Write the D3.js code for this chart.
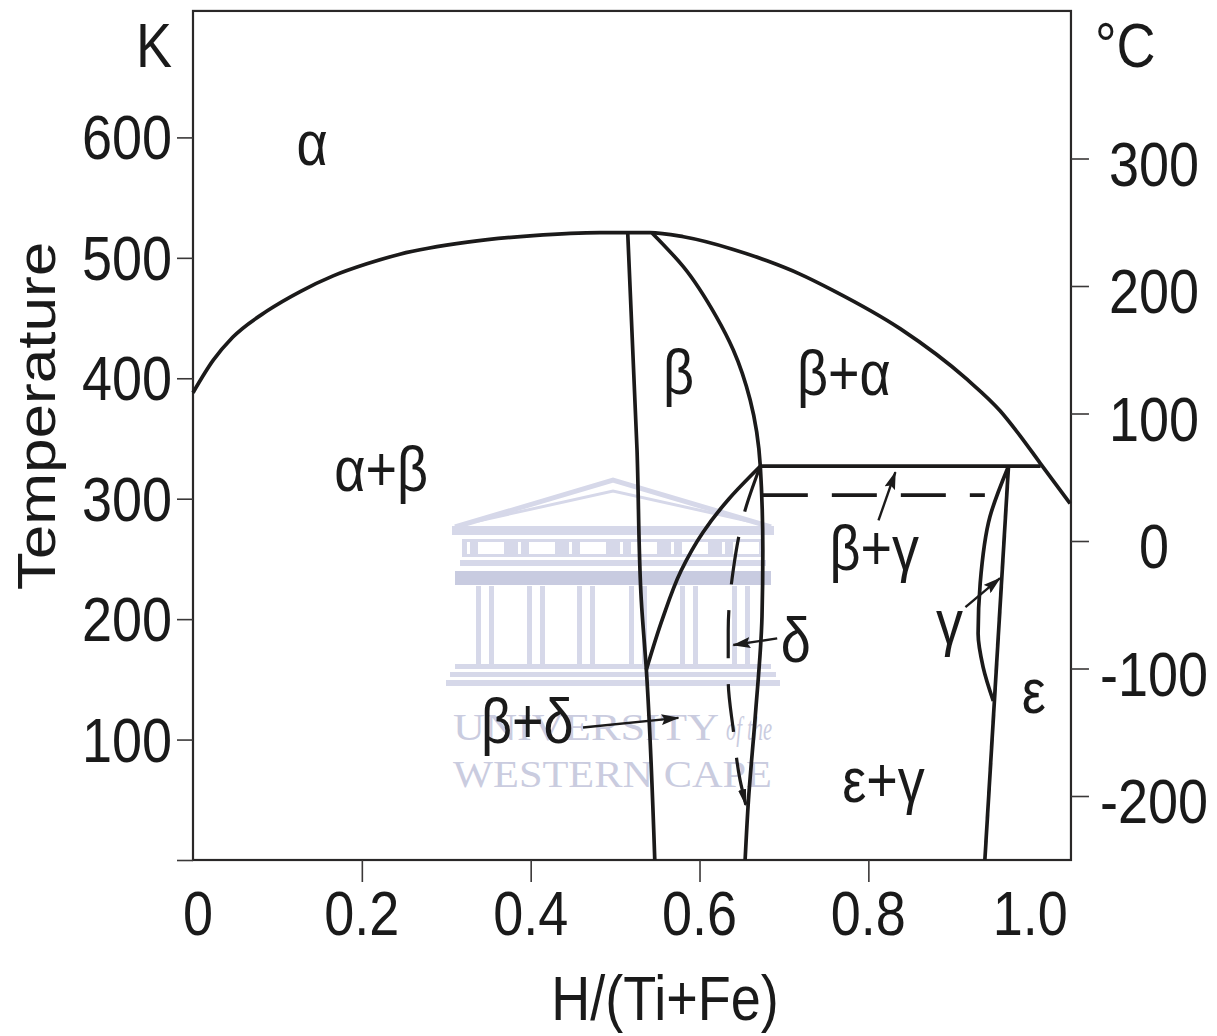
<!DOCTYPE html>
<html>
<head>
<meta charset="utf-8">
<script src="https://cdn.jsdelivr.net/npm/d3@7"></script>
<style>
  body { margin: 0; background: #fff; }
  svg { display: block; }
  text { font-family: "Liberation Sans", Arial, Helvetica, sans-serif; fill: #1a1a1a; }
  .wm { font-family: "Liberation Serif", "DejaVu Serif", serif; fill: #caccdf; }
</style>
</head>
<body>
<svg id="chart" width="1217" height="1036"></svg>
<script>
// ---- Ti-Fe-H phase diagram: composition H/(Ti+Fe) vs temperature (K) ----

// axis ticks
const compTicks = [0, 0.2, 0.4, 0.6, 0.8, 1.0];
const compTickLabels = ["0", "0.2", "0.4", "0.6", "0.8", "1.0"];
const tempKTicks = [0, 100, 200, 300, 400, 500, 600];
const tempCTicks = [-200, -100, 0, 100, 200, 300];

// plotted extent
const compExtent = [0, 1.04];
const tempKExtent = [0, 705];

// phase boundaries, [H/(Ti+Fe), T in K]
// alpha solvus (function of composition)
const alphaBoundary = [[0, 388], [0.024, 415], [0.047, 434], [0.088, 456], [0.127, 472], [0.166, 485],
  [0.206, 495], [0.245, 503], [0.325, 513], [0.403, 518.5], [0.482, 521], [0.541, 521], [0.581, 517.5],
  [0.640, 507], [0.680, 497.5], [0.719, 486.5], [0.758, 473], [0.838, 441], [0.917, 399], [0.956, 373],
  [0.980, 352], [1.003, 330], [1.039, 296]];
// near-vertical boundaries, listed from high to low temperature
const betaLeftBoundary = [[0.515, 520], [0.526, 340], [0.531, 216], [0.537, 158], [0.547, 0]];
const betaRightBoundary = [[0.544, 520.5], [0.581, 492.5], [0.620, 451], [0.640, 423.5], [0.660, 382],
  [0.672, 327], [0.675, 257], [0.674, 202], [0.666, 119], [0.658, 50], [0.654, 0]];
const betaDeltaBoundary = [[0.672, 327], [0.635, 300], [0.604, 272], [0.578, 240], [0.556, 200], [0.537, 158]];
const deltaDashed = [[0.672, 327], [0.654, 290.5], [0.640, 241], [0.634, 191], [0.634, 149.5], [0.640, 108], [0.648, 66.5], [0.655, 45.5]];
const gammaLens = [[0.966, 327], [0.944, 285], [0.9325, 230], [0.930, 188], [0.936, 160], [0.948, 132]];
// straight boundaries
const eutectoidLine = [[0.672, 327], [1.004, 327]];
const betaGammaDashed = [[0.675, 303], [0.938, 303]];
const gammaEpsilonBoundary = [[0.966, 327], [0.938, 0]];

// phase field names: [label, H/(Ti+Fe), T (K) of baseline]
const phaseLabels = [
  ["α", 0.141, 577], ["α+β", 0.223, 306], ["β", 0.575, 387], ["β+α", 0.771, 386],
  ["β+γ", 0.807, 241], ["δ", 0.714, 164], ["γ", 0.896, 179], ["ε", 0.996, 122],
  ["ε+γ", 0.818, 48], ["β+δ", 0.396, 97]
];

// leader arrows: [from, to]
const leaderArrows = [
  [[0.812, 282], [0.832, 322]],
  [[0.915, 210], [0.956, 234]],
  [[0.692, 184], [0.640, 178.5]],
  [[0.462, 110], [0.575, 118]]
];

// ---- scales ----
const x = d3.scaleLinear().domain([0, 1]).range([193, 1037.2]);
const yK = d3.scaleLinear().domain([0, 600]).range([860, 137.4]);
const yC = d3.scaleLinear().domain([-200, 300]).range([796, 158.5]);

const svg = d3.select("#chart");
const ink = "#1b1a1a";
const stretch = "scale(1,1.15)";
const lw = 3.7;

// ---- watermark (university crest) ----
const wm = svg.append("g").attr("class", "watermark");
const wmc = "#d6d8e9";
const wmDark = "#c8cbe0";
wm.append("polyline").attr("points", "455,527 613,480 771,527").attr("fill", "none").attr("stroke", wmc).attr("stroke-width", 5);
wm.append("polyline").attr("points", "478,521 613,491 748,521").attr("fill", "none").attr("stroke", wmc).attr("stroke-width", 3);
wm.append("rect").attr("x", 452).attr("y", 526).attr("width", 322).attr("height", 9).attr("fill", wmc);
wm.append("rect").attr("x", 462).attr("y", 539).attr("width", 302).attr("height", 18).attr("fill", wmc);
d3.range(6).forEach(i => {
  wm.append("rect").attr("x", 478 + i * 51).attr("y", 542).attr("width", 26).attr("height", 12).attr("fill", "#fff");
  wm.append("rect").attr("x", 467 + i * 51).attr("y", 542).attr("width", 3).attr("height", 12).attr("fill", "#fff");
});
wm.append("rect").attr("x", 460).attr("y", 560).attr("width", 306).attr("height", 6).attr("fill", wmc);
wm.append("rect").attr("x", 455).attr("y", 571).attr("width", 316).attr("height", 14).attr("fill", wmDark);
[485, 536, 586, 638, 689, 741].forEach(cx => {
  wm.append("rect").attr("x", cx - 9).attr("y", 586).attr("width", 5).attr("height", 78).attr("fill", wmc);
  wm.append("rect").attr("x", cx + 4).attr("y", 586).attr("width", 5).attr("height", 78).attr("fill", wmc);
});
wm.append("rect").attr("x", 455).attr("y", 664).attr("width", 316).attr("height", 5).attr("fill", wmc);
wm.append("rect").attr("x", 450).attr("y", 672).attr("width", 326).attr("height", 5).attr("fill", wmc);
wm.append("rect").attr("x", 446).attr("y", 680).attr("width", 334).attr("height", 6).attr("fill", wmc);
wm.append("text").attr("class", "wm").attr("x", 453).attr("y", 740).attr("font-size", 38)
  .attr("textLength", 266).attr("lengthAdjust", "spacingAndGlyphs").text("UNIVERSITY");
wm.append("text").attr("class", "wm").attr("x", 726).attr("y", 740).attr("font-size", 34).attr("font-style", "italic")
  .attr("textLength", 46).attr("lengthAdjust", "spacingAndGlyphs").text("of the");
wm.append("text").attr("class", "wm").attr("x", 453).attr("y", 787).attr("font-size", 38)
  .attr("textLength", 319).attr("lengthAdjust", "spacingAndGlyphs").text("WESTERN CAPE");

// ---- markers ----
const defs = svg.append("defs");
defs.append("marker").attr("id", "head").attr("markerUnits", "userSpaceOnUse")
  .attr("viewBox", "0 0 18 11").attr("markerWidth", 18).attr("markerHeight", 11)
  .attr("refX", 17).attr("refY", 5.5).attr("orient", "auto")
  .append("path").attr("d", "M0,0 L18,5.5 L0,11 L3,5.5 Z").attr("fill", ink);
defs.append("marker").attr("id", "thinHead").attr("markerUnits", "userSpaceOnUse")
  .attr("viewBox", "0 0 18 8").attr("markerWidth", 18).attr("markerHeight", 8)
  .attr("refX", 16).attr("refY", 4).attr("orient", "auto")
  .append("path").attr("d", "M0,0 L18,4 L0,8 Z").attr("fill", ink);

// ---- frame ----
svg.append("rect")
  .attr("x", x(compExtent[0])).attr("y", yK(tempKExtent[1]))
  .attr("width", x(compExtent[1]) - x(compExtent[0]))
  .attr("height", yK(tempKExtent[0]) - yK(tempKExtent[1]))
  .attr("fill", "none").attr("stroke", "#2a2828").attr("stroke-width", 2.2);

// ---- axes (tick marks) ----
function styleAxis(g) {
  g.select(".domain").remove();
  g.selectAll(".tick line").attr("stroke", "#3a3838").attr("stroke-width", 1.6);
  g.selectAll(".tick text").remove();
}
svg.append("g").attr("transform", `translate(${x(0)},0)`)
  .call(d3.axisLeft(yK).tickValues(tempKTicks).tickSize(16).tickFormat(""))
  .call(styleAxis);
svg.append("g").attr("transform", `translate(${x(compExtent[1])},0)`)
  .call(d3.axisRight(yC).tickValues(tempCTicks).tickSize(18).tickFormat(""))
  .call(styleAxis);
svg.append("g").attr("transform", `translate(0,${yK(0)})`)
  .call(d3.axisBottom(x).tickValues(compTicks.filter(t => t > 0 && t < 1)).tickSize(22).tickFormat(""))
  .call(styleAxis);

// ---- text helper (type is slightly tall, as in the printed figure) ----
function label(str, px, py, anchor, size = 54, rotate = false) {
  return svg.append("text")
    .attr("transform", `translate(${px},${py}) ${stretch}${rotate ? " rotate(-90)" : ""}`)
    .attr("text-anchor", anchor).attr("font-size", size).text(str);
}

// tick labels (end labels pulled inside the frame)
tempKTicks.filter(t => t > 0).forEach(t => label(String(t), x(0) - 21, yK(t) + 22, "end"));
tempCTicks.forEach(t => label(String(t), x(compExtent[1]) + 83, yC(t) + 27, "middle"));
compTicks.forEach((t, i) => label(compTickLabels[i], x(t) + (t === 0 ? 5 : t === 1 ? -7 : 0), yK(0) + 75, "middle"));

// axis units and titles
label("K", x(0) - 21, 67, "end");
label("°C", x(compExtent[1]) + 24, 67, "start");
label("Temperature", 55, 416, "middle", 54, true);
label("H/(Ti+Fe)", 665, 1020, "middle");

// ---- phase boundaries ----
const lineX = d3.line().x(d => x(d[0])).y(d => yK(d[1])).curve(d3.curveMonotoneX);
const lineY = d3.line().x(d => x(d[0])).y(d => yK(d[1])).curve(d3.curveMonotoneY);
const lineStraight = d3.line().x(d => x(d[0])).y(d => yK(d[1]));

const g = svg.append("g").attr("fill", "none").attr("stroke", ink).attr("stroke-linejoin", "round");
g.append("path").datum(alphaBoundary).attr("d", lineX).attr("stroke-width", lw);
g.selectAll("path.v").data([betaLeftBoundary, betaRightBoundary, betaDeltaBoundary, gammaLens]).join("path")
  .attr("class", "v").attr("d", lineY).attr("stroke-width", lw);
g.selectAll("path.s").data([eutectoidLine, gammaEpsilonBoundary]).join("path")
  .attr("class", "s").attr("d", lineStraight).attr("stroke-width", lw);

g.append("path").datum(betaGammaDashed).attr("d", lineStraight)
  .attr("stroke-width", lw).attr("stroke-dasharray", "45,24");
g.append("path").datum(deltaDashed).attr("d", lineY)
  .attr("stroke-width", 3.2).attr("stroke-dasharray", "48,26")
  .attr("marker-end", "url(#thinHead)");

// ---- leader arrows ----
svg.append("g").selectAll("line").data(leaderArrows).join("line")
  .attr("x1", d => x(d[0][0])).attr("y1", d => yK(d[0][1]))
  .attr("x2", d => x(d[1][0])).attr("y2", d => yK(d[1][1]))
  .attr("stroke", ink).attr("stroke-width", 2.4).attr("marker-end", "url(#head)");

// ---- phase field labels ----
phaseLabels.forEach(([name, c, t]) => label(name, x(c), yK(t), "middle"));
</script>
</body>
</html>
